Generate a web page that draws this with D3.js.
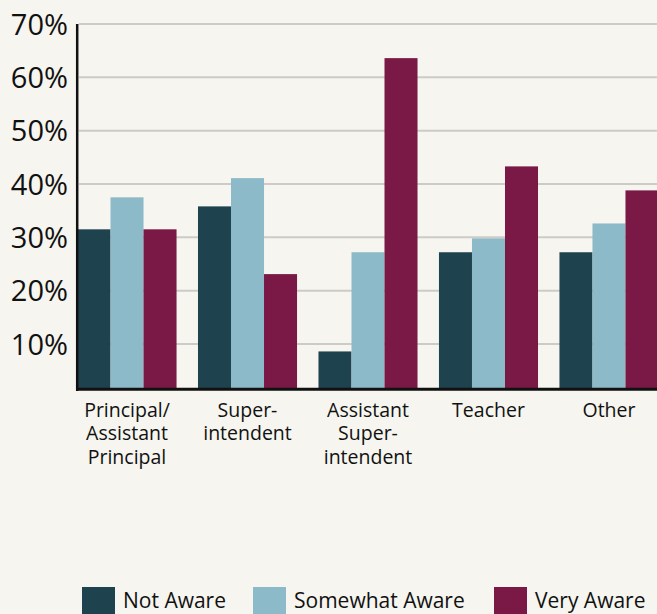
<!DOCTYPE html>
<html>
<head>
<meta charset="utf-8">
<script src="https://cdn.jsdelivr.net/npm/d3@7"></script>
<style>
  html, body { margin: 0; padding: 0; background: #f6f5ef; }
  svg { display: block; font-family: "Open Sans", "Noto Sans", sans-serif; }
</style>
</head>
<body>
<div id="chart"></div>
<script>
const categories = [
    ["Principal/", "Assistant", "Principal"],
    ["Super-", "intendent"],
    ["Assistant", "Super-", "intendent"],
    ["Teacher"],
    ["Other"]
];
const seriesNames = ["Not Aware", "Somewhat Aware", "Very Aware"];
const notAware = [31.5, 35.8, 8.6, 27.2, 27.2];
const somewhatAware = [37.5, 41.1, 27.2, 29.8, 32.6];
const veryAware = [31.5, 23.1, 63.6, 43.3, 38.8];
const yTicks = [10, 20, 30, 40, 50, 60, 70];

const colors = ["#1f424f", "#8dbac8", "#7a1846"];
const series = [notAware, somewhatAware, veryAware];

const W = 657, H = 614;
const axisFloor = 1.5;

const svg = d3.select("#chart").append("svg")
    .attr("width", W)
    .attr("height", H);

svg.append("rect")
    .attr("width", W)
    .attr("height", H)
    .attr("fill", "#f6f5ef");

const groupIds = categories.map((d, i) => i);

const xScale = d3.scaleBand()
    .domain(groupIds)
    .range([77.5, 658.5])
    .paddingInner(0.178)
    .paddingOuter(0);

const xInner = d3.scaleBand()
    .domain(d3.range(seriesNames.length))
    .range([0, xScale.bandwidth()]);

const yScale = d3.scaleLinear()
    .domain([0, 70])
    .range([397.3, 24]);

// gridlines
svg.append("g")
    .selectAll("line")
    .data(yTicks)
    .join("line")
    .attr("x1", 79)
    .attr("x2", W)
    .attr("y1", d => yScale(d))
    .attr("y2", d => yScale(d))
    .attr("stroke", "#cdcbc7")
    .attr("stroke-width", 2);

// bars
const groups = svg.append("g")
    .selectAll("g")
    .data(groupIds)
    .join("g")
    .attr("transform", i => `translate(${xScale(i)},0)`);

groups.selectAll("rect")
    .data(i => series.map((s, k) => ({ k, value: s[i] })))
    .join("rect")
    .attr("x", d => xInner(d.k))
    .attr("width", xInner.bandwidth())
    .attr("y", d => yScale(d.value))
    .attr("height", d => yScale(axisFloor) - yScale(d.value))
    .attr("fill", d => colors[d.k]);

// y axis labels
const yAxis = svg.append("g")
    .attr("transform", "translate(68,0)")
    .call(d3.axisLeft(yScale).tickValues(yTicks).tickSize(0).tickPadding(0).tickFormat(d => d + "%"));

yAxis.select(".domain").remove();
yAxis.selectAll("text")
    .attr("font-family", "'Open Sans', sans-serif")
    .attr("font-size", "29px")
    .attr("fill", "#111")
    .attr("dy", "0.35em");

// axis lines
svg.append("line")
    .attr("x1", 77.2).attr("x2", 77.2)
    .attr("y1", yScale(70)).attr("y2", 391)
    .attr("stroke", "#111")
    .attr("stroke-width", 2.5);

svg.append("line")
    .attr("x1", 76).attr("x2", W)
    .attr("y1", yScale(axisFloor)).attr("y2", yScale(axisFloor))
    .attr("stroke", "#111")
    .attr("stroke-width", 3);

// x labels
const xLabels = svg.append("g")
    .selectAll("text")
    .data(groupIds)
    .join("text")
    .attr("x", i => xScale(i) + xScale.bandwidth() / 2)
    .attr("y", 417)
    .attr("text-anchor", "middle")
    .attr("font-size", "19.5px")
    .attr("fill", "#111");

xLabels.selectAll("tspan")
    .data(i => categories[i])
    .join("tspan")
    .attr("x", function () { return d3.select(this.parentNode).attr("x"); })
    .attr("dy", (d, j) => j === 0 ? 0 : 23.3)
    .text(d => d);

// legend
const legendX = [82, 253, 494];
const legend = svg.append("g")
    .selectAll("g")
    .data(seriesNames)
    .join("g")
    .attr("transform", (d, i) => `translate(${legendX[i]},587)`);

legend.append("rect")
    .attr("width", 33)
    .attr("height", 30)
    .attr("fill", (d, i) => colors[i]);

legend.append("text")
    .attr("x", 41)
    .attr("y", 21)
    .attr("font-size", "21px")
    .attr("fill", "#111")
    .text(d => d);
</script>
</body>
</html>
